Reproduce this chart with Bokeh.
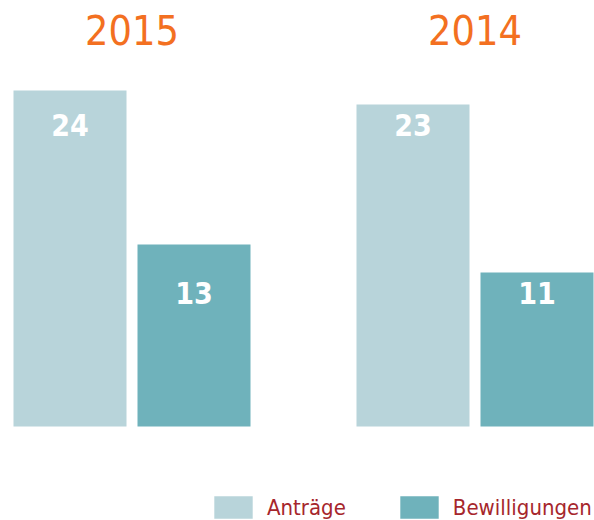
from bokeh.plotting import figure
from bokeh.models import Range1d, Legend, LegendItem, ColumnDataSource
from bokeh.core.properties import value
from bokeh.embed import file_html
from bokeh.resources import INLINE

# ---- data ----
years = ["2015", "2014"]
antraege = [24, 23]
bewilligungen = [13, 11]
series_names = ["Anträge", "Bewilligungen"]

# ---- style ----
C_ANTR = "#b8d4da"
C_BEW = "#6fb2bb"
C_TITLE = "#f37021"
C_LEG = "#a6262c"
FONT = "DejaVu Sans Condensed"

W, H = 594, 520
PX = 14  # pixels per unit
BASE = 426  # pixel row of zero
GROUP_STEP = 343
GROUP0 = 131.5
BAR_W = 113
BAR_OFF = 62
LABEL_DROP = 1.43

centers = [GROUP0 + GROUP_STEP * i for i in range(len(years))]
x_a = [c - BAR_OFF for c in centers]
x_b = [c + BAR_OFF for c in centers]

p = figure(width=W, height=H, x_range=Range1d(0, W),
           y_range=Range1d((BASE - H) / PX, BASE / PX),
           output_backend="svg", toolbar_location=None, min_border=0)
p.axis.visible = False
p.grid.visible = False
p.outline_line_color = None
p.background_fill_color = "white"

src_a = ColumnDataSource(dict(x=x_a, top=antraege, lab=[str(v) for v in antraege],
                              ly=[min(antraege) - LABEL_DROP] * len(antraege)))
src_b = ColumnDataSource(dict(x=x_b, top=bewilligungen, lab=[str(v) for v in bewilligungen],
                              ly=[min(bewilligungen) - LABEL_DROP] * len(bewilligungen)))

ra = p.vbar(x="x", top="top", bottom=0, width=BAR_W, source=src_a,
            fill_color=C_ANTR, line_color=None)
rb = p.vbar(x="x", top="top", bottom=0, width=BAR_W, source=src_b,
            fill_color=C_BEW, line_color=None)

for src in (src_a, src_b):
    p.text(x="x", y="ly", text="lab", source=src, text_color="white",
           text_font=value(FONT), text_font_style="bold", text_font_size="30px",
           text_align="center", text_baseline="middle")

p.text(x=centers, y=[(BASE - 29.5) / PX] * len(years), text=years, text_color=C_TITLE,
       text_font=value(FONT), text_font_size="41px",
       text_align="center", text_baseline="middle")

legend = Legend(items=[LegendItem(label=series_names[0], renderers=[ra]),
                       LegendItem(label=series_names[1], renderers=[rb])],
                orientation="horizontal", location=(209, -1),
                glyph_width=48, glyph_height=28, label_height=28,
                label_standoff=10, spacing=49, padding=0, margin=0,
                border_line_color=None, background_fill_alpha=0,
                label_text_font=FONT, label_text_font_size="22px",
                label_text_color=C_LEG)
p.add_layout(legend, "center")

open("out.html", "w").write(file_html(p, INLINE))
